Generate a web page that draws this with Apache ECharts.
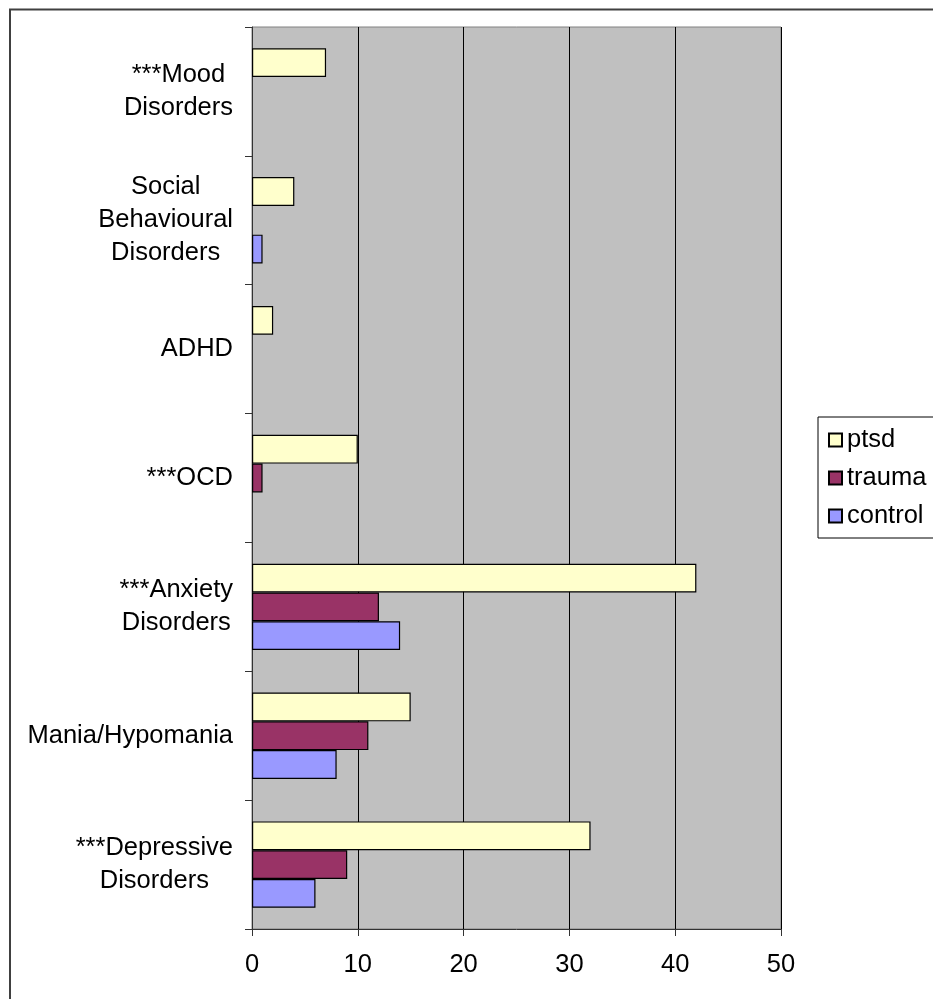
<!DOCTYPE html>
<html>
<head>
<meta charset="utf-8">
<script src="https://cdn.jsdelivr.net/npm/echarts@6/dist/echarts.min.js"></script>
<style>
  html, body { margin: 0; padding: 0; background: #fff; }
  #chart { width: 933px; height: 999px; }
</style>
</head>
<body>
<div id="chart"></div>
<script>
// Diagnosis categories, listed bottom to top
const categories = [
  '***Depressive\nDisorders',
  'Mania/Hypomania',
  '***Anxiety\nDisorders',
  '***OCD',
  'ADHD',
  'Social\nBehavioural\nDisorders',
  '***Mood\nDisorders'
];

const ptsd    = [32, 15, 42, 10, 2, 4, 7];
const trauma  = [9, 11, 12, 1, 0, 0, 0];
const control = [6, 8, 14, 0, 0, 1, 0];

const xTicks = [0, 10, 20, 30, 40, 50];

const FONT = '"Liberation Sans", Arial, sans-serif';
const FS = 25.5;

const chart = echarts.init(document.getElementById('chart'), null, { renderer: 'canvas' });

// Zero-length bars get no outline so nothing is drawn for them
function barSeries(name, data, color) {
  return {
    name: name,
    type: 'bar',
    data: data.map(v => v === 0 ? { value: v, itemStyle: { borderWidth: 0 } } : v),
    barGap: '0%',
    barCategoryGap: '33%',
    itemStyle: { color: color, borderColor: '#000', borderWidth: 1.2 }
  };
}

chart.setOption({
  animation: false,
  backgroundColor: '#fff',
  textStyle: { fontFamily: FONT },
  graphic: [{
    type: 'rect',
    shape: { x: 10, y: 9.5, width: 1000, height: 1000 },
    style: { fill: 'none', stroke: '#404040', lineWidth: 2 },
    silent: true,
    z: -1
  }],
  grid: {
    left: 252, right: 152, top: 27, bottom: 70,
    show: true,
    backgroundColor: '#C0C0C0',
    borderColor: '#808080',
    borderWidth: 1,
    containLabel: false,
    outerBoundsMode: 'none'
  },
  legend: {
    data: ['ptsd', 'trauma', 'control'],
    orient: 'vertical',
    left: 818,
    top: 417,
    padding: [10, 60, 9, 10],
    itemWidth: 13,
    itemHeight: 13,
    itemGap: 12,
    itemTextGap: 12,
    icon: 'rect',
    borderColor: '#000',
    borderWidth: 1,
    backgroundColor: '#fff',
    textStyle: { fontFamily: FONT, fontSize: FS, color: '#000', lineHeight: 25 }
  },
  xAxis: {
    type: 'value',
    min: xTicks[0],
    max: xTicks[xTicks.length - 1],
    interval: 10,
    axisLine: { show: true, lineStyle: { color: '#333', width: 1 } },
    axisTick: { show: true, length: 7, lineStyle: { color: '#333' } },
    axisLabel: { margin: 23, color: '#000', fontSize: FS, fontFamily: FONT },
    splitLine: { show: true, lineStyle: { color: '#000', width: 1 } }
  },
  yAxis: {
    type: 'category',
    data: categories,
    axisLine: { show: true, lineStyle: { color: '#333', width: 1 } },
    axisTick: { show: true, length: 7, alignWithLabel: false, lineStyle: { color: '#333' } },
    axisLabel: {
      margin: 19,
      color: '#000',
      fontFamily: FONT,
      fontSize: FS,
      interval: 0,
      formatter: v => v.split('\n').map(l => '{c|' + l + '}').join('\n'),
      rich: {
        c: { align: 'center', fontSize: FS, lineHeight: 33, fontFamily: FONT, color: '#000' }
      }
    },
    splitLine: { show: false }
  },
  series: [
    barSeries('ptsd', ptsd, '#FFFFCC'),
    barSeries('trauma', trauma, '#993366'),
    barSeries('control', control, '#9999FF')
  ]
});
</script>
</body>
</html>
